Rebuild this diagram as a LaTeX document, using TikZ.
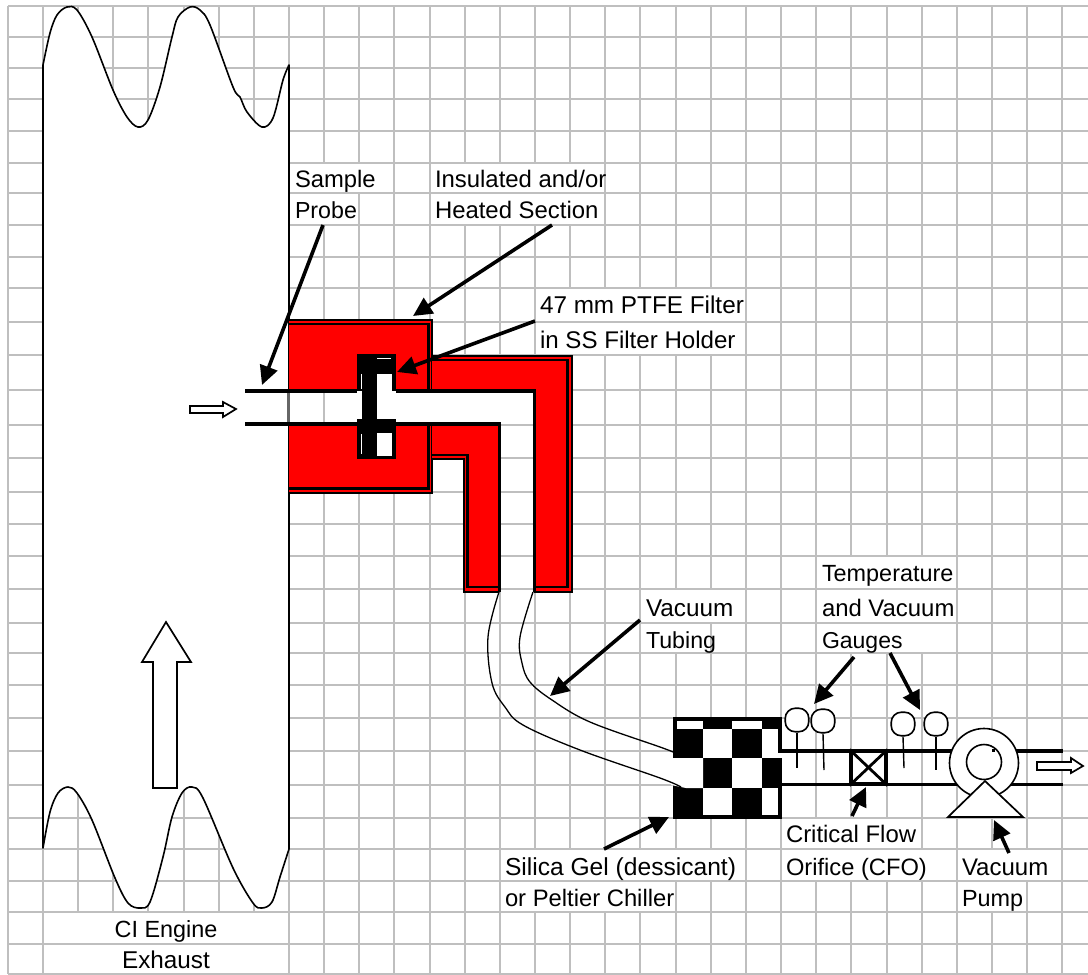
\documentclass[tikz,border=0pt]{standalone}
\usepackage{fontspec}
\setmainfont{Liberation Sans}
\usetikzlibrary{arrows.meta}
\tikzset{
  gridline/.style={draw=gridgray,line width=2.2pt},
  lbl/.style={anchor=base west,inner sep=0pt,outer sep=0pt,text=black,font=\fontsize{#1}{28}\selectfont},
  callout/.style={line width=3.6pt,-{Triangle[length=19pt,width=18pt]}},
  wall/.style={draw=black,line width=2pt},
  inner wall/.style={draw=black,line width=2.2pt},
  pipe/.style={draw=black,line width=3.6pt},
  tube/.style={draw=black,line width=1.3pt},
  outline/.style={draw=black,line width=1.7pt,fill=white,line join=miter},
  gauge/.style={draw=black,line width=1.6pt,fill=white},
  dial/.style={gauge,rectangle,rounded corners=10pt,minimum size=23.5pt,inner sep=0pt},
}
\definecolor{gridgray}{HTML}{BFBFBF}
\newcommand{\wcell}[4]{\fill[white] (#1+1.3,#3+1.3) rectangle (#2-1.3,#4-1.3);}
\begin{document}
\begin{tikzpicture}[x=1pt,y=-1pt]
\useasboundingbox (0,0) rectangle (1088,975);
\fill[white] (0,0) rectangle (1088,975);
% grid
\foreach \gx in {8,43,78,113,148,184,219,254,289,324,359,394,430,465,500,535,570,605,640,676,711,746,781,816,851,887,922,957,992,1027,1062}
  \draw[gridline] (\gx,6) -- (\gx,974);
\foreach \gy in {6,37,68,99,131,163,193,225,257,288,322,355,390,425,458,492,524,556,589,623,653,685,718,751,785,818,849,881,912,944,974}
  \draw[gridline] (8,\gy) -- (1088,\gy);
% text cells hide the vertical grid lines
\wcell{43}{289}{912}{944}
\wcell{43}{289}{944}{974}
\wcell{289}{394}{163}{193}
\wcell{289}{359}{193}{225}
\wcell{430}{605}{163}{193}
\wcell{430}{605}{193}{225}
\wcell{535}{746}{288}{322}
\wcell{535}{746}{322}{355}
\wcell{640}{746}{589}{623}
\wcell{640}{711}{623}{653}
\wcell{816}{957}{556}{589}
\wcell{816}{957}{589}{623}
\wcell{816}{957}{623}{653}
\wcell{500}{746}{849}{881}
\wcell{500}{676}{881}{912}
\wcell{781}{922}{818}{849}
\wcell{781}{957}{849}{881}
\wcell{957}{1062}{849}{881}
\wcell{957}{1027}{881}{912}
% exhaust duct
\draw[black,line width=1.6pt,fill=white,line join=round]
  plot[smooth,tension=.55] coordinates {(43,65)(50,33)(57,15)(67,7)(77,10)(92,37)(113,90)(127,117)(138,127)(148,120)(160,87)(172,37)(178,17)(190,7)(200,10)(210,25)(233,87)(240,97)(247,112)(262,127)(273,118)(283,80)(289,65)}
  -- (289,849)
  -- plot[smooth,tension=.55] coordinates {(289,849)(280,877)(272,902)(262,908)(253,903)(233,868)(203,798)(192,787)(182,793)(172,817)(163,857)(150,902)(140,908)(128,903)(115,878)(92,820)(77,793)(68,787)(58,793)(50,812)(43,848)}
  -- cycle;
% flow arrows
\draw[outline] (166,622) -- (191,662) -- (177,662) -- (177,788) -- (153,788) -- (153,662) -- (142,662) -- cycle;
\draw[outline] (190,406) -- (223,406) -- (223,402) -- (236,409) -- (223,417) -- (223,413) -- (190,413) -- cycle;
\draw[outline] (1037,762) -- (1071,762) -- (1071,758) -- (1083,766) -- (1071,773) -- (1071,770) -- (1037,770) -- cycle;
% heated section
\fill[red] (289,320) rectangle (432,493);
\draw[wall] (289,320) -- (432,320) -- (432,493) -- (289,493);
\draw[inner wall] (289,324) -- (428.5,324) -- (428.5,488.5) -- (289,488.5);
\fill[red] (432,356) -- (571,356) -- (571,591) -- (534,591) -- (534,391) -- (432,391) -- cycle;
\draw[wall] (432,356) -- (571.5,356) -- (571.5,591.5) -- (534,591.5);
\draw[inner wall] (432,360) -- (567.5,360) -- (567.5,587) -- (534,587);
\fill[red] (432,424) -- (499,424) -- (499,591) -- (464,591) -- (464,459) -- (432,459) -- cycle;
\draw[wall] (432,459) -- (464,459) -- (464,591.5) -- (499,591.5);
\draw[inner wall] (432,455) -- (467.5,455) -- (467.5,587) -- (499,587);
% flow channel
\fill[white] (289,391) rectangle (534,424);
\draw[gridline] (324,391) -- (324,424);
\draw[black!60,line width=2.4pt] (288.5,391) -- (288.5,424);
% filter holder
\fill[white] (357,354) rectangle (396,459);
\fill[black] (357,354) rectangle (396,374);
\fill[black] (357,374) rectangle (377,391);
\fill[black] (392,374) rectangle (396,391);
\fill[black] (362,391) rectangle (377,419);
\fill[black] (357,419) rectangle (396,433);
\fill[black] (357,433) rectangle (377,459);
\fill[black] (392,433) rectangle (396,459);
\fill[black] (357,456) rectangle (396,459);
\draw[white,line width=.6pt] (377,358) -- (391,358);
\draw[white,line width=.6pt] (361,374) -- (361,389);
\draw[white,line width=.6pt] (361,434) -- (361,454);
% channel walls
\coordinate (p1a) at (245,391);
\coordinate (p1b) at (357,391);
\coordinate (p1c) at (396,391);
\coordinate (p1d) at (534.5,391);
\coordinate (p1e) at (534.5,592);
\coordinate (p2a) at (245,424);
\coordinate (p2b) at (499.5,424);
\coordinate (p2c) at (499.5,592);
\draw[pipe] (p1a) -- (p1b);
\draw[pipe,line join=miter] (p1c) -- (p1d) -- (p1e);
\draw[pipe,line join=miter] (p2a) -- (p2b) -- (p2c);
% chiller
\fill[black] (673,717) rectangle (782,819);
\fill[white] (677,721) rectangle (703,729);
\fill[white] (732,721) rectangle (762,729);
\fill[white] (703,729) rectangle (732,758);
\fill[white] (762,729) rectangle (778,758);
\fill[white] (671,758) -- (703,758) -- (703,788) -- (686,788) -- (671,785) -- cycle;
\fill[white] (732,758) rectangle (762,788);
\fill[white] (703,788) rectangle (732,815);
\fill[white] (762,788) rectangle (778,815);
\fill[white] (778,753) rectangle (783,758);
% vacuum tubing
\coordinate (t1a) at (499,592);
\coordinate (t1b) at (681,787);
\coordinate (t2a) at (533,592);
\coordinate (t2b) at (673,752);
\draw[tube] plot[smooth,tension=.6] coordinates {(t1a)(488,637)(492,683)(505,707)(523,725)(580,750)(660,778)(t1b)};
\draw[tube] plot[smooth,tension=.6] coordinates {(t2a)(520,637)(522,663)(530,682)(552,700)(590,722)(660,747)(t2b)};
% process line
\coordinate (u0) at (782,751);
\coordinate (u1) at (1063,751);
\coordinate (l0) at (782,784.5);
\coordinate (l1) at (1063,784.5);
\draw[pipe] (u0) -- (u1);
\draw[pipe] (l0) -- (l1);
% orifice
\node[draw=black,line width=3.2pt,fill=white,minimum width=35pt,minimum height=33pt,inner sep=0pt] (cfo) at (868.5,767.5) {};
\draw[black,line width=2.8pt] (cfo.north west) -- (cfo.south east);
\draw[black,line width=2.8pt] (cfo.north east) -- (cfo.south west);
% gauges
\node[dial] (g1) at (797,720) {};
\node[dial] (g2) at (823,721) {};
\node[dial] (g3) at (903,724) {};
\node[dial] (g4) at (936,724) {};
\coordinate (s1) at (797,768);
\coordinate (s2) at (824,770);
\coordinate (s3) at (904,768);
\coordinate (s4) at (936,770);
\draw[black,line width=1.4pt] (g1.south) -- (s1);
\draw[black,line width=1.4pt] (g2.south) -- (s2);
\draw[black,line width=1.4pt] (g3.south) -- (s3);
\draw[black,line width=1.4pt] (g4.south) -- (s4);
% pump
\node[gauge,circle,minimum size=69pt,inner sep=0pt] (pump) at (984,763) {};
\node[gauge,circle,minimum size=35pt,inner sep=0pt] (rotor) at (984,762) {};
\fill[black] (992,749) rectangle (995,752);
\draw[outline] (985,781) -- (1023,817) -- (948,817) -- cycle;
% labels
\node[lbl=23.8] (sample) at (295,187) {Sample};
\node[lbl=23.2] (probe) at (295,218) {Probe};
\node[lbl=23.9] (ins) at (435,187) {Insulated and/or};
\node[lbl=23.9] (heated) at (435,218) {Heated Section};
\node[lbl=24.3] (ptfe) at (540,313) {47 mm PTFE Filter};
\node[lbl=24.1] (ss) at (540,348) {in SS Filter Holder};
\node[lbl=24.3] (vac) at (646,616) {Vacuum};
\node[lbl=23.2] (tub) at (646,648) {Tubing};
\node[lbl=23.4] (temp) at (822,581) {Temperature};
\node[lbl=23.9] (andv) at (822,616) {and Vacuum};
\node[lbl=23.0] (gau) at (822,648) {Gauges};
\node[lbl=24.6] (sil) at (505,875) {Silica Gel (dessicant)};
\node[lbl=23.8] (pel) at (505,906) {or Peltier Chiller};
\node[lbl=23.9] (crit) at (786,842) {Critical Flow};
\node[lbl=23.7] (ori) at (786,875) {Orifice (CFO)};
\node[lbl=24.0] (vp) at (962,875) {Vacuum};
\node[lbl=23.4] (pmp) at (962,906) {Pump};
\node[lbl=23.4,anchor=base] (ci) at (166,937) {CI Engine};
\node[lbl=24.3,anchor=base] (exh) at (166,968) {Exhaust};
% callouts
\coordinate (a1s) at (323,225); \coordinate (a1t) at (262,385);
\coordinate (a2s) at (552,225); \coordinate (a2t) at (413,316);
\coordinate (a3s) at (535,321); \coordinate (a3t) at (397,372);
\coordinate (a4s) at (640,620); \coordinate (a4t) at (550,696);
\coordinate (a5s) at (854,657); \coordinate (a5t) at (814,704);
\coordinate (a6s) at (890,653); \coordinate (a6t) at (920,710);
\coordinate (a7s) at (852,816); \coordinate (a7t) at (866,787);
\coordinate (a8s) at (604,849); \coordinate (a8t) at (669,817);
\coordinate (a9s) at (1009,853); \coordinate (a9t) at (994,820);
\foreach \a in {1,...,9} \draw[callout] (a\a s) -- (a\a t);
\end{tikzpicture}
\end{document}
